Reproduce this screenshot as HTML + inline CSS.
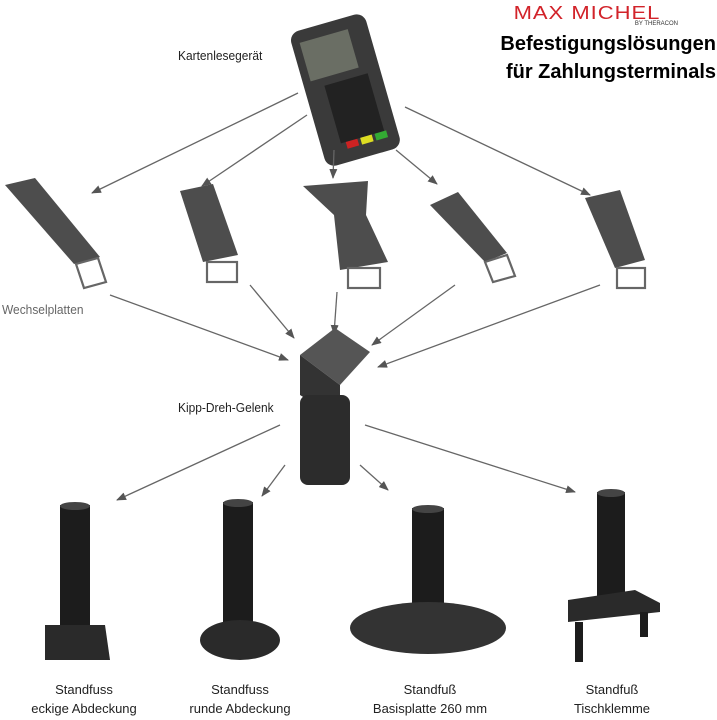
<!DOCTYPE html>
<html><head><style>body{margin:0;background:#fff}svg{display:block}text{font-family:"Liberation Sans",sans-serif}</style></head><body>
<svg width="717" height="720" viewBox="0 0 717 720" xmlns="http://www.w3.org/2000/svg">
<defs><marker id="a" markerWidth="10" markerHeight="8" refX="9" refY="4" orient="auto" markerUnits="userSpaceOnUse"><path d="M0,0L10,4L0,8z" fill="#555"/></marker></defs>
<text x="587" y="19" font-size="22" fill="#d2232a" text-anchor="middle" letter-spacing="1" transform="scale(1,0.85)" style="transform-origin:587px 19px">MAX MICHEL</text>
<text x="678" y="25" font-size="6" fill="#333" text-anchor="end">BY THERACON</text>
<text x="716" y="50" font-size="20" font-weight="bold" text-anchor="end">Befestigungslösungen</text>
<text x="716" y="78" font-size="20" font-weight="bold" text-anchor="end">für Zahlungsterminals</text>
<text x="178" y="60" font-size="13" fill="#222" transform="scale(0.92,1)" style="transform-origin:178px 60px">Kartenlesegerät</text>
<text x="2" y="314" font-size="13" fill="#666" transform="scale(0.92,1)" style="transform-origin:2px 314px">Wechselplatten</text>
<text x="178" y="412" font-size="13" fill="#222" transform="scale(0.92,1)" style="transform-origin:178px 412px">Kipp-Dreh-Gelenk</text>
<g font-size="13" fill="#222" text-anchor="middle">
<text x="84" y="694">Standfuss</text><text x="84" y="713">eckige Abdeckung</text>
<text x="240" y="694">Standfuss</text><text x="240" y="713">runde Abdeckung</text>
<text x="430" y="694">Standfuß</text><text x="430" y="713">Basisplatte 260 mm</text>
<text x="612" y="694">Standfuß</text><text x="612" y="713">Tischklemme</text>
</g>
<g transform="rotate(-16 345 85)">
<rect x="305" y="20" width="78" height="140" rx="10" fill="#3a3a3a"/>
<rect x="313" y="32" width="50" height="40" fill="#6a6e64"/>
<rect x="325" y="80" width="45" height="60" fill="#222"/>
<rect x="330" y="140" width="12" height="7" fill="#c22"/><rect x="345" y="140" width="12" height="7" fill="#dd2"/><rect x="360" y="140" width="12" height="7" fill="#3a3"/>
</g>
<g stroke="#666" stroke-width="1.3" marker-end="url(#a)" fill="none">
<line x1="298" y1="93" x2="92" y2="193"/><line x1="307" y1="115" x2="202" y2="186"/><line x1="334" y1="150" x2="333" y2="178"/><line x1="396" y1="150" x2="437" y2="184"/><line x1="405" y1="107" x2="590" y2="195"/>
<line x1="110" y1="295" x2="288" y2="360"/><line x1="250" y1="285" x2="294" y2="338"/><line x1="337" y1="292" x2="334" y2="334"/><line x1="455" y1="285" x2="372" y2="345"/><line x1="600" y1="285" x2="378" y2="367"/>
<line x1="280" y1="425" x2="117" y2="500"/><line x1="285" y1="465" x2="262" y2="496"/><line x1="360" y1="465" x2="388" y2="490"/><line x1="365" y1="425" x2="575" y2="492"/>
</g>
<g fill="#4d4d4d">
<polygon points="5,185 35,178 100,257 74,264"/>
<polygon points="180,191 213,184 238,255 203,262"/>
<polygon points="303,186 368,181 366,215 388,262 340,270 334,215"/>
<polygon points="430,205 458,192 507,253 485,262"/>
<polygon points="585,198 620,190 645,260 615,268"/>
</g>
<g fill="none" stroke="#666" stroke-width="2.2">
<polygon points="76,264 98,258 106,282 84,288"/>
<rect x="207" y="262" width="30" height="20"/>
<rect x="348" y="268" width="32" height="20"/>
<polygon points="485,262 507,255 515,276 493,282"/>
<rect x="617" y="268" width="28" height="20"/>
</g>
<polygon points="300,355 335,328 370,352 340,385" fill="#555"/>
<polygon points="300,355 340,385 340,420 300,395" fill="#333"/>
<rect x="300" y="395" width="50" height="90" rx="8" fill="#2c2c2c"/>
<g fill="#1c1c1c">
<rect x="60" y="505" width="30" height="120"/><ellipse cx="75" cy="506" rx="15" ry="4" fill="#444"/>
<polygon points="45,625 105,625 110,660 45,660" fill="#2a2a2a"/>
<rect x="223" y="502" width="30" height="125"/><ellipse cx="238" cy="503" rx="15" ry="4" fill="#444"/>
<ellipse cx="240" cy="640" rx="40" ry="20" fill="#2a2a2a"/>
<rect x="412" y="508" width="32" height="125"/><ellipse cx="428" cy="509" rx="16" ry="4" fill="#444"/>
<ellipse cx="428" cy="628" rx="78" ry="26" fill="#333"/>
<rect x="597" y="492" width="28" height="115"/><ellipse cx="611" cy="493" rx="14" ry="4" fill="#444"/>
<polygon points="568,600 635,590 660,603 660,612 568,622" fill="#2a2a2a"/>
<rect x="575" y="622" width="8" height="40"/><rect x="640" y="612" width="8" height="25"/>
</g>
</svg>
</body></html>
